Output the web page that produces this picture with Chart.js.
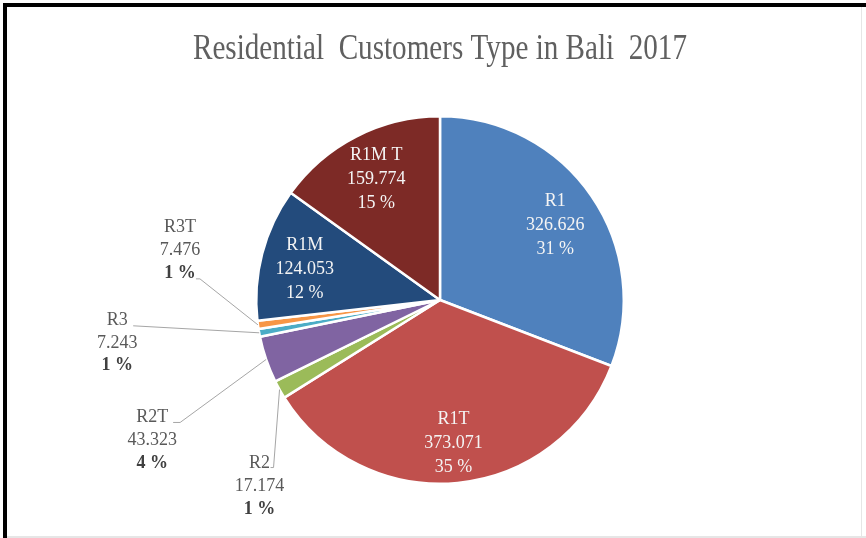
<!DOCTYPE html>
<html>
<head>
<meta charset="utf-8">
<script src="https://cdn.jsdelivr.net/npm/chart.js@4.4.1/dist/chart.umd.min.js"></script>
<style>
  html, body { margin: 0; padding: 0; background: #fff; }
  #wrap { width: 866px; height: 538px; position: relative; }
</style>
</head>
<body>
<div id="wrap"><canvas id="pieCanvas"></canvas></div>
<script>
// data
const TITLE = "Residential  Customers Type in Bali  2017";
const categories = ["R1", "R1T", "R2", "R2T", "R3", "R3T", "R1M", "R1MT"];
const labelNames = ["R1", "R1T", "R2", "R2T", "R3", "R3T", "R1M", "R1M T"];
const customers = [326626, 373071, 17174, 43323, 7243, 7476, 124053, 159774];
const percentLabels = ["31 %", "35 %", "1 %", "4 %", "1 %", "1 %", "12 %", "15 %"];

const sliceColors = ["#4F81BD", "#C0504D", "#9BBB59", "#8064A2", "#4BACC6", "#F79646", "#234B7C", "#7D2A26"];

// small slices get their label pulled outside with a leader line
// offsets are relative to the outer middle point of the slice
const outsideLayout = {
  2: { dx: -20, dy: 97, line: [[-6, 78], [-9, 78]] },
  3: { dx: -114, dy: 81, line: [[-86, 63], [-93, 63]] },
  4: { dx: -142, dy: 10, line: [[-126, -7]] },
  5: { dx: -78, dy: -75, line: [[-58, -46], [-62, -46]] },
};

const fmt = (n) => String(n).replace(/\B(?=(\d{3})+(?!\d))/g, ".");

const SERIF = "'Liberation Serif', 'Times New Roman', serif";

/**
 * 背景・枠線・タイトル
 */
const framePlugin = {
  id: "frame",
  beforeDraw(chart) {
    const ctx = chart.ctx;
    ctx.save();
    ctx.fillStyle = "#ffffff";
    ctx.fillRect(0, 0, chart.width, chart.height);
    ctx.fillStyle = "#e6e6e6";
    ctx.fillRect(3, chart.height - 2, chart.width - 3, 2);
    ctx.fillRect(chart.width - 5, 3, 1, chart.height - 5);
    ctx.fillStyle = "#000000";
    ctx.fillRect(3, 3, chart.width - 3, 4);
    ctx.fillRect(3, 3, 4, chart.height - 3);
    ctx.restore();
  },
  afterDraw(chart) {
    const ctx = chart.ctx;
    ctx.save();
    ctx.font = "36px " + SERIF;
    ctx.fillStyle = "#606060";
    ctx.textBaseline = "alphabetic";
    ctx.textAlign = "center";
    const w = ctx.measureText(TITLE).width;
    const sx = 494 / w;
    ctx.translate(440, 59);
    ctx.scale(sx, 1);
    ctx.fillText(TITLE, 0, 0);
    ctx.restore();
  },
};

/**
 * スライスのラベル
 */
const sliceLabelPlugin = {
  id: "sliceLabels",
  afterDatasetsDraw(chart) {
    const ctx = chart.ctx;
    const arcs = chart.getDatasetMeta(0).data;
    ctx.save();
    ctx.textAlign = "center";
    ctx.textBaseline = "middle";
    arcs.forEach((arc, i) => {
      const { x, y, startAngle, endAngle, outerRadius } = arc.getProps(
        ["x", "y", "startAngle", "endAngle", "outerRadius"], true);
      const mid = (startAngle + endAngle) / 2;
      const lines = [labelNames[i], fmt(customers[i]), percentLabels[i]];
      const out = outsideLayout[i];
      if (!out) {
        const cx = x + Math.cos(mid) * outerRadius * 0.76;
        const cy = y + Math.sin(mid) * outerRadius * 0.76 + 4;
        ctx.fillStyle = "#f4f4f4";
        ctx.font = "18px " + SERIF;
        lines.forEach((t, k) => ctx.fillText(t, cx, cy + (k - 1) * 24));
        return;
      }
      const ex = x + Math.cos(mid) * outerRadius;
      const ey = y + Math.sin(mid) * outerRadius;
      ctx.strokeStyle = "#a6a6a6";
      ctx.lineWidth = 1;
      ctx.beginPath();
      ctx.moveTo(ex, ey);
      out.line.forEach(([lx, ly]) => ctx.lineTo(ex + lx, ey + ly));
      ctx.stroke();
      const cx = ex + out.dx;
      const cy = ey + out.dy;
      lines.forEach((t, k) => {
        ctx.font = (k === 2 ? "bold " : "") + "18px " + SERIF;
        ctx.fillStyle = k === 2 ? "#404040" : "#595959";
        ctx.fillText(t, cx, cy + (k - 1) * 23);
      });
    });
    ctx.restore();
  },
};

const chart = new Chart(document.getElementById("pieCanvas"), {
  type: "pie",
  data: {
    labels: categories,
    datasets: [
      {
        data: customers,
        backgroundColor: sliceColors,
        borderColor: "#ffffff",
        borderWidth: 2.5,
        hoverOffset: 0,
      },
    ],
  },
  options: {
    responsive: true,
    maintainAspectRatio: false,
    animation: false,
    devicePixelRatio: 1,
    layout: {
      padding: { top: 115, bottom: 53, left: 200, right: 186 },
    },
    plugins: {
      legend: { display: false },
      tooltip: { enabled: false },
      title: { display: false },
    },
  },
  plugins: [framePlugin, sliceLabelPlugin],
});
</script>
</body>
</html>
